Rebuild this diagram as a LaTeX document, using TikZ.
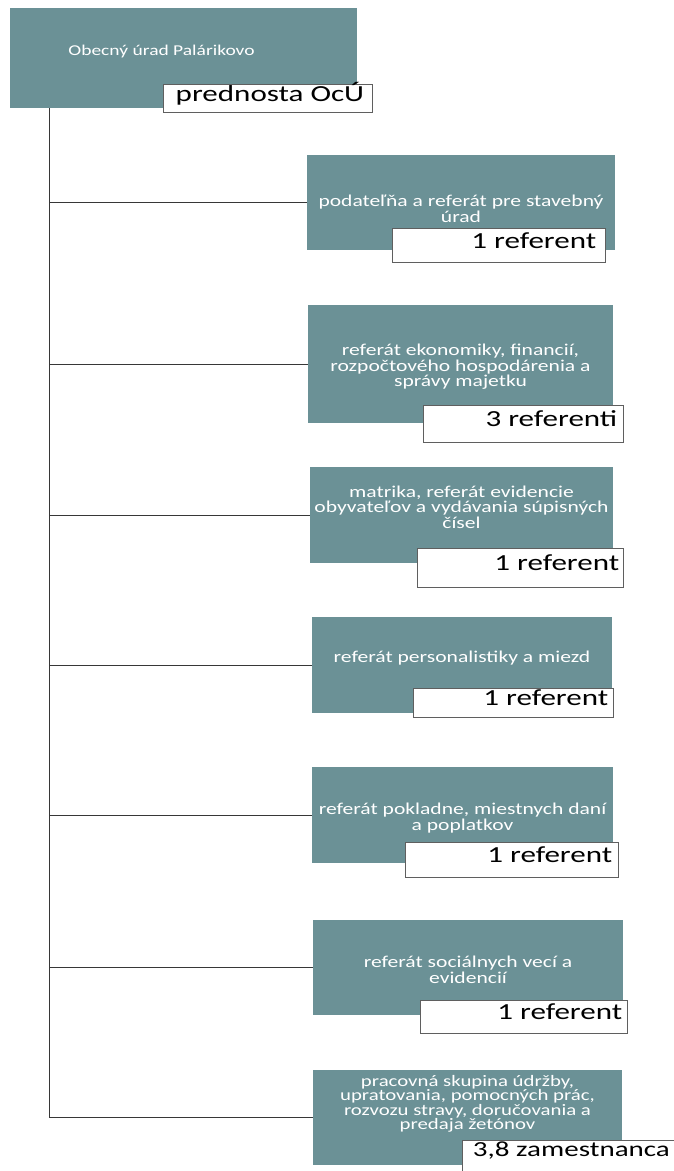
\documentclass[tikz,border=0pt]{standalone}
\usepackage{fontspec}
\setmainfont{Carlito}
\newfontfamily\calst{Carlito}[FakeStretch=1.35]
\newfontfamily\calbx{Carlito}[FakeStretch=1.3]
\definecolor{boxfill}{RGB}{107,145,150}
\definecolor{linecol}{RGB}{55,55,55}
\begin{document}
\begin{tikzpicture}[x=1pt,y=-1pt,
  box/.style={draw=none, fill=boxfill, inner sep=0pt},
  boxtext/.style={text=white, align=center, inner sep=0pt, font=\calbx\fontsize{16.6}{15.5}\selectfont},
  lab/.style={draw=linecol!80, line width=0.8pt, fill=white, inner sep=0pt},
  labtext/.style={text=black, inner sep=0pt, text height=0.644em, text depth=0pt, anchor=east, font=\calst\fontsize{23}{25}\selectfont},
  conn/.style={draw=linecol, line width=1pt}]
\useasboundingbox (0,0) rectangle (673,1171);

% top box
\node[box, minimum width=347pt, minimum height=100pt] (top) at (183.5,58) {};
\node[boxtext, font=\calbx\fontsize{15}{15}\selectfont] (ttop) at (161.5,51) {Obecný úrad Palárikovo};
\node[lab, minimum width=209pt, minimum height=28pt] (ltop) at (267.5,98) {};
\node[labtext] (lttop) at ([xshift=-8pt]ltop.east) {prednosta OcÚ};

% boxes
\node[box, minimum width=308pt, minimum height=95pt] (b1) at (461,202.5) {};
\node[box, minimum width=305pt, minimum height=118pt] (b2) at (460.5,364) {};
\node[box, minimum width=303pt, minimum height=96pt] (b3) at (461.5,515) {};
\node[box, minimum width=300pt, minimum height=96pt] (b4) at (462,665) {};
\node[box, minimum width=301pt, minimum height=96pt] (b5) at (462.5,815) {};
\node[box, minimum width=310pt, minimum height=95pt] (b6) at (468,967.5) {};
\node[box, minimum width=309pt, minimum height=95pt] (b7) at (467.5,1117.5) {};

% connectors
\coordinate (tk) at (49,0);
\draw[conn] (top.south -| tk) |- (b7.west);
\foreach \b in {b1,b2,b3,b4,b5,b6}{
  \draw[conn] (tk |- \b.west) -- (\b.west);
}

% box texts
\node[boxtext] (t1) at (461,209) {podateľňa a referát pre stavebný\\úrad};
\node[boxtext] (t2) at (460.5,367) {referát ekonomiky, financií,\\rozpočtového hospodárenia a\\správy majetku};
\node[boxtext] (t3) at (461.5,507) {matrika, referát evidencie\\obyvateľov a vydávania súpisných\\čísel};
\node[boxtext] (t4) at (462,658) {referát personalistiky a miezd};
\node[boxtext] (t5) at (462.5,818) {referát pokladne, miestnych daní\\a poplatkov};
\node[boxtext] (t6) at (468,970) {referát sociálnych vecí a\\evidencií};
\node[boxtext, font=\calbx\fontsize{16}{14.5}\selectfont] (t7) at (467.5,1104) {pracovná skupina údržby,\\upratovania, pomocných prác,\\rozvozu stravy, doručovania a\\predaja žetónov};

% labels
\node[lab, minimum width=213pt, minimum height=34pt] (l1) at (498.5,245) {};
\node[labtext] (lt1) at ([xshift=-9pt]l1.east) {1 referent};
\node[lab, minimum width=200pt, minimum height=37pt] (l2) at (523,423.5) {};
\node[labtext] (lt2) at ([xshift=-6pt]l2.east) {3 referenti};
\node[lab, minimum width=206pt, minimum height=39pt] (l3) at (520,567.5) {};
\node[labtext] (lt3) at ([xshift=-4pt]l3.east) {1 referent};
\node[lab, minimum width=200pt, minimum height=29pt] (l4) at (513,702.5) {};
\node[labtext] (lt4) at ([xshift=-5pt]l4.east) {1 referent};
\node[lab, minimum width=213pt, minimum height=35pt] (l5) at (511.5,859.5) {};
\node[labtext] (lt5) at ([xshift=-6pt]l5.east) {1 referent};
\node[lab, minimum width=207pt, minimum height=33pt] (l6) at (523.5,1016.5) {};
\node[labtext] (lt6) at ([xshift=-5pt]l6.east) {1 referent};
\node[lab, minimum width=240pt, minimum height=50pt] (l7) at (582,1165) {};
\node[labtext, font=\calst\fontsize{21.5}{23}\selectfont] (lt7) at (670,1153) {3,8 zamestnanca};
\end{tikzpicture}
\end{document}
